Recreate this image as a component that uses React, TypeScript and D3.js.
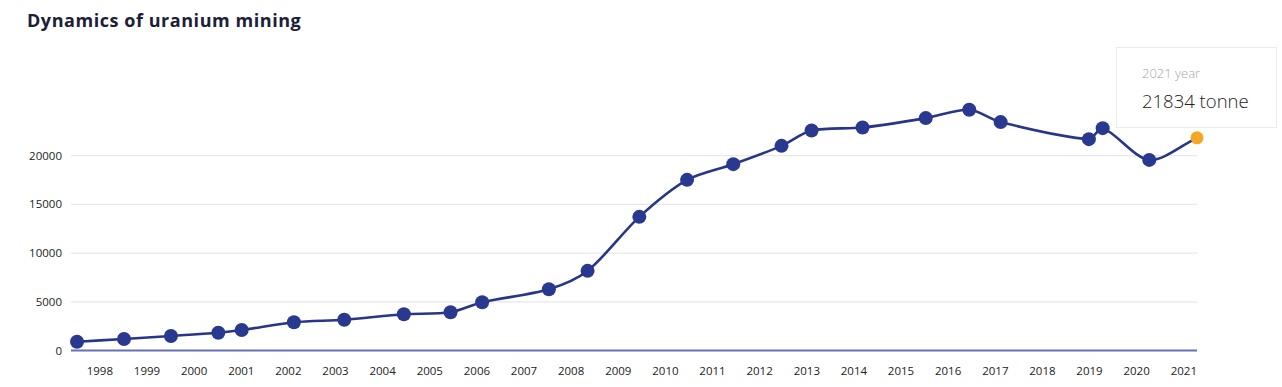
import { useMemo } from 'react';
import * as d3 from 'd3';

const WIDTH = 1282;
const HEIGHT = 387;

// dates of the points (as they sit on the time axis) and mined tonnes
const pointDates = [
  '1997-03-28', '1998-03-27', '1999-03-26', '2000-03-27', '2000-09-24',
  '2001-11-03', '2002-11-28', '2004-03-04', '2005-03-01', '2005-11-01',
  '2007-04-02', '2008-01-27', '2009-03-03', '2010-03-08', '2011-03-01',
  '2012-03-09', '2012-10-28', '2013-11-27', '2015-04-01', '2016-03-03',
  '2016-11-01', '2018-09-16', '2019-01-01', '2019-12-28', '2021-01-01',
];
const tonnes = [
  900, 1180, 1490, 1830, 2100,
  2900, 3160, 3720, 3930, 4950,
  6290, 8180, 13720, 17520, 19130,
  21010, 22580, 22890, 23860, 24710,
  23450, 21700, 22830, 19570, 21834,
];
const yearLabels = [
  '1998', '1999', '2000', '2001', '2002', '2003', '2004', '2005', '2006', '2007', '2008', '2009',
  '2010', '2011', '2012', '2013', '2014', '2015', '2016', '2017', '2018', '2019', '2020', '2021',
];
const yTicks = [0, 5000, 10000, 15000, 20000];

const TITLE = 'Dynamics of uranium mining';
const TOOLTIP_YEAR = '2021 year';
const TOOLTIP_VALUE = '21834 tonne';

const FONT = "'Open Sans', sans-serif";
const TENSION = 0.3;

// spline through the points, control points weighted by neighbour distance
const splinePath = (pts: [number, number][]) => {
  const p = d3.path();
  p.moveTo(pts[0][0], pts[0][1]);
  const ctrl = pts.map((cur, i) => {
    const prev = pts[i - 1] || cur;
    const next = pts[i + 1] || cur;
    const d01 = Math.hypot(cur[0] - prev[0], cur[1] - prev[1]);
    const d12 = Math.hypot(next[0] - cur[0], next[1] - cur[1]);
    let s01 = d01 / (d01 + d12);
    let s12 = d12 / (d01 + d12);
    s01 = isNaN(s01) ? 0 : s01;
    s12 = isNaN(s12) ? 0 : s12;
    const fa = TENSION * s01;
    const fb = TENSION * s12;
    return {
      prev: [cur[0] - fa * (next[0] - prev[0]), cur[1] - fa * (next[1] - prev[1])],
      next: [cur[0] + fb * (next[0] - prev[0]), cur[1] + fb * (next[1] - prev[1])],
    };
  });
  for (let i = 1; i < pts.length; i++) {
    const a = ctrl[i - 1].next;
    const b = ctrl[i].prev;
    p.bezierCurveTo(a[0], a[1], b[0], b[1], pts[i][0], pts[i][1]);
  }
  return p.toString();
};

export default function App() {
  const margin = { left: 72, right: 85, top: 107, bottom: 36.5 };

  const parse = d3.timeParse('%Y-%m-%d');
  const data = pointDates.map((d, i) => ({ date: parse(d) as Date, value: tonnes[i] }));

  // axis starts a bit before the first point
  const xScale = useMemo(() => {
    return d3
      .scaleTime()
      .domain([new Date(1997, 1, 17), new Date(2021, 0, 1)])
      .range([margin.left, WIDTH - margin.right]);
  }, []);

  const yScale = d3
    .scaleLinear()
    .domain([0, 25000])
    .range([HEIGHT - margin.bottom, margin.top]);

  const pts = data.map((d) => [xScale(d.date), yScale(d.value)] as [number, number]);
  const last = data[data.length - 1];

  return (
    <svg
      width={WIDTH}
      height={HEIGHT}
      style={{ position: 'absolute', left: 0, top: 0, background: '#fff' }}
    >
      <text
        x={27}
        y={26.5}
        fontFamily={FONT}
        fontWeight={700}
        fontSize={18}
        letterSpacing={0.55}
        fill="#1b2036"
      >
        {TITLE}
      </text>

      {/* grid + y labels */}
      {yTicks.map((t) => (
        <g key={t}>
          {t > 0 && (
            <line
              x1={margin.left - 1}
              x2={WIDTH - margin.right}
              y1={yScale(t)}
              y2={yScale(t)}
              stroke="#e8e8e8"
              strokeWidth={1.3}
            />
          )}
          <text
            x={62}
            y={yScale(t)}
            dy="0.35em"
            textAnchor="end"
            fontFamily={FONT}
            fontSize={11.5}
            fill="#222"
          >
            {t}
          </text>
        </g>
      ))}

      {/* x labels, right aligned to the year start */}
      {yearLabels.map((y) => (
        <text
          key={y}
          x={xScale(new Date(+y, 0, 1))}
          y={375}
          textAnchor="end"
          fontFamily={FONT}
          fontSize={11.5}
          fill="#222"
        >
          {y}
        </text>
      ))}

      <line
        x1={margin.left - 1}
        x2={WIDTH - margin.right}
        y1={yScale(0)}
        y2={yScale(0)}
        stroke="#6570b5"
        strokeWidth={2}
      />

      <path d={splinePath(pts)} fill="none" stroke="#27358a" strokeWidth={2.6} />

      {data.slice(0, -1).map((d, i) => (
        <circle key={i} cx={xScale(d.date)} cy={yScale(d.value)} r={7} fill="#2a3990" />
      ))}
      <circle cx={xScale(last.date)} cy={yScale(last.value)} r={6.5} fill="#f5a623" />

      {/* tooltip */}
      <rect x={1116.5} y={47.5} width={160} height={80} fill="#fff" stroke="#ebebeb" strokeWidth={1} />
      <text x={1142} y={78} fontFamily={FONT} fontWeight={300} fontSize={13} fill="#a5a5a5">
        {TOOLTIP_YEAR}
      </text>
      <text x={1142} y={108} fontFamily={FONT} fontWeight={300} fontSize={18.5} fill="#222">
        {TOOLTIP_VALUE}
      </text>
    </svg>
  );
}
